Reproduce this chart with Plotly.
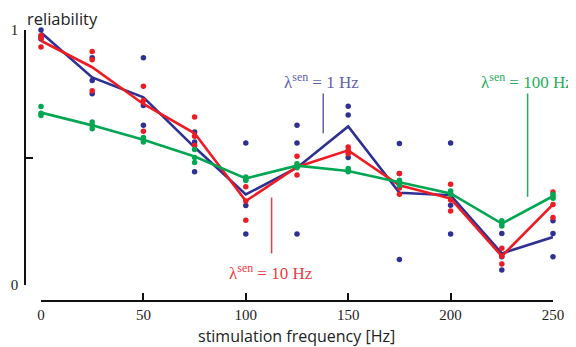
import plotly.graph_objects as go

# ---------------- data ----------------
freq = [0, 25, 50, 75, 100, 125, 150, 175, 200, 225, 250]

blue_mean = [0.99, 0.814, 0.736, 0.54, 0.355, 0.46, 0.622, 0.362, 0.352, 0.124, 0.188]
red_mean = [0.958, 0.854, 0.71, 0.595, 0.329, 0.463, 0.528, 0.391, 0.339, 0.113, 0.316]
green_mean = [0.676, 0.626, 0.570, 0.504, 0.418, 0.468, 0.447, 0.404, 0.359, 0.241, 0.348]

blue_trials = [
    [1.0, 0.975, 0.965], [0.891, 0.802, 0.750], [0.891, 0.704, 0.626],
    [0.600, 0.561, 0.444], [0.557, 0.312, 0.200], [0.626, 0.557, 0.200],
    [0.701, 0.667, 0.500], [0.555, 0.437, 0.100], [0.557, 0.313, 0.200],
    [0.202, 0.111, 0.059], [0.252, 0.202, 0.111],
]
red_trials = [
    [0.978, 0.969, 0.933], [0.916, 0.883, 0.762], [0.779, 0.724, 0.603],
    [0.659, 0.583, 0.548], [0.385, 0.329, 0.254], [0.505, 0.463, 0.431],
    [0.541, 0.528, 0.515], [0.437, 0.380, 0.356], [0.395, 0.333, 0.290],
    [0.144, 0.113, 0.082], [0.365, 0.316, 0.265],
]
green_trials = [
    [0.700, 0.674, 0.665], [0.639, 0.626, 0.613], [0.578, 0.570, 0.561],
    [0.531, 0.500, 0.480], [0.424, 0.414, 0.410], [0.476, 0.466, 0.460],
    [0.457, 0.447, 0.444], [0.411, 0.404, 0.391], [0.369, 0.359, 0.355],
    [0.252, 0.241, 0.231], [0.356, 0.346, 0.340],
]

x_tick_vals = [0, 50, 100, 150, 200, 250]
y_tick_vals = [0, 1]
y_tick_text = ["0", "1"]
y_minor_vals = [0.5]

# annotation labels: (text, x, y, line x, line y0, line y1, colour)
labels = [
    ("λ<sup>sen</sup> = 1 Hz", 137.0, 0.80, 137.8, 0.751, 0.595, "#5f62ab"),
    ("λ<sup>sen</sup> = 100 Hz", 237.2, 0.80, 237.6, 0.751, 0.346, "#1fae5e"),
    ("λ<sup>sen</sup> = 10 Hz", 112.5, 0.052, 112.6, 0.343, 0.124, "#ee3b43"),
]

BLUE = "#2e3192"
RED = "#ed1c24"
GREEN = "#00a651"

fig = go.Figure()

for trials, means, col in [(blue_trials, blue_mean, BLUE),
                           (red_trials, red_mean, RED),
                           (green_trials, green_mean, GREEN)]:
    xs, ys = [], []
    for f, tr in zip(freq, trials):
        for v in tr:
            xs.append(f)
            ys.append(v)
    fig.add_trace(go.Scatter(x=xs, y=ys, mode="markers",
                             marker=dict(color=col, size=5.5, line=dict(width=0)),
                             cliponaxis=False, showlegend=False, hoverinfo="skip"))
    fig.add_trace(go.Scatter(x=freq, y=means, mode="lines",
                             line=dict(color=col, width=2.6),
                             cliponaxis=False, showlegend=False, hoverinfo="skip"))

for text, tx, ty, lx, ly0, ly1, col in labels:
    fig.add_annotation(x=tx, y=ty, xref="x", yref="y", text=text, showarrow=False,
                       xanchor="center", yanchor="middle",
                       font=dict(family="Liberation Serif", size=17, color=col))
    fig.add_shape(type="line", xref="x", yref="y", x0=lx, x1=lx, y0=ly0, y1=ly1,
                  line=dict(color=col, width=1.5))

fig.add_annotation(x=0, y=1.044, xref="paper", yref="paper", text="reliability",
                   showarrow=False, xanchor="left", yanchor="middle",
                   font=dict(family="Open Sans", size=16.5, color="#222"))
fig.add_annotation(x=0.514, y=-0.128, xref="paper", yref="paper",
                   text="stimulation frequency [Hz]", showarrow=False,
                   xanchor="center", yanchor="middle",
                   font=dict(family="Open Sans", size=16, color="#222"))

fig.update_layout(
    width=568, height=339,
    margin=dict(l=17, r=23, t=21.5, b=46),
    paper_bgcolor="white", plot_bgcolor="white",
    xaxis=dict(range=[0, 250], domain=[0.0303, 1], anchor="free", position=0,
               automargin=False,
               tickvals=x_tick_vals, ticks="inside", ticklen=7, tickwidth=1.5,
               tickcolor="#111", showline=True, linecolor="#111", linewidth=1.6,
               showgrid=False, zeroline=False,
               tickfont=dict(family="Liberation Serif", size=15, color="#222")),
    yaxis=dict(range=[0, 1], domain=[0.059, 1], anchor="free", position=0,
               automargin=False, ticklabelstandoff=3,
               tickvals=y_tick_vals, ticktext=y_tick_text, ticks="inside",
               ticklen=7, tickwidth=1.5, tickcolor="#111", showline=True,
               linecolor="#111", linewidth=1.6, showgrid=False, zeroline=False,
               minor=dict(tickmode="array", tickvals=y_minor_vals, ticks="inside",
                          ticklen=7, tickwidth=1.5, tickcolor="#111", showgrid=False),
               tickfont=dict(family="Liberation Serif", size=15, color="#222")),
)

fig.write_html("out.html")
